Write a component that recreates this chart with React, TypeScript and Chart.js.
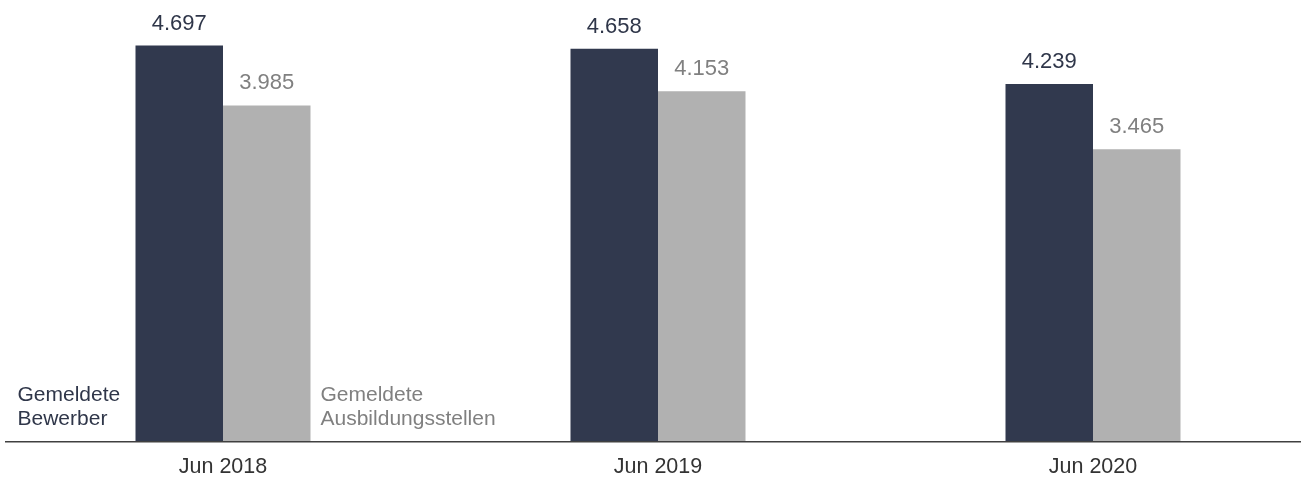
import React, { useEffect, useRef } from "react";
import { Chart, registerables } from "chart.js";

Chart.register(...registerables);

const categories = ["Jun 2018", "Jun 2019", "Jun 2020"];
const bewerber = [4697, 4658, 4239];
const stellen = [3985, 4153, 3465];
const seriesNames = ["Gemeldete Bewerber", "Gemeldete Ausbildungsstellen"];
const seriesLabelLines = [["Gemeldete", "Bewerber"], ["Gemeldete", "Ausbildungsstellen"]];

const DARK = "#31394e";
const GRAY = "#b1b1b1";
const DARK_TEXT = "#2f3649";
const GRAY_TEXT = "#808080";
const FAMILY = "'Liberation Sans', Arial, sans-serif";

const fmt = (v: number) => (v / 1000).toFixed(3);

const overlayPlugin = {
  id: "overlay",
  afterDatasetsDraw(chart: any) {
    const ctx = chart.ctx;
    const area = chart.chartArea;
    ctx.save();
    // value labels
    ctx.font = "22px " + FAMILY;
    chart.data.datasets.forEach((ds: any, di: number) => {
      const meta = chart.getDatasetMeta(di);
      meta.data.forEach((bar: any, i: number) => {
        ctx.fillStyle = di === 0 ? DARK_TEXT : GRAY_TEXT;
        ctx.textAlign = "center";
        ctx.textBaseline = "alphabetic";
        ctx.fillText(fmt(ds.data[i]), bar.x, bar.y - 16);
      });
    });
    // series labels next to first group
    ctx.font = "21px " + FAMILY;
    const b0 = chart.getDatasetMeta(0).data[0];
    const b1 = chart.getDatasetMeta(1).data[0];
    ctx.textAlign = "left";
    ctx.textBaseline = "alphabetic";
    ctx.fillStyle = DARK_TEXT;
    seriesLabelLines[0].forEach((line, k) => {
      ctx.fillText(line, b0.x - b0.width / 2 - 118, 401 + k * 24);
    });
    ctx.fillStyle = GRAY_TEXT;
    seriesLabelLines[1].forEach((line, k) => {
      ctx.fillText(line, b1.x + b1.width / 2 + 10, 401 + k * 24);
    });
    // axis line
    ctx.strokeStyle = "#404040";
    ctx.lineWidth = 1.5;
    ctx.beginPath();
    ctx.moveTo(5, area.bottom + 0.75);
    ctx.lineTo(chart.width, area.bottom + 0.75);
    ctx.stroke();
    // category labels
    ctx.font = "21.5px " + FAMILY;
    const xs = chart.scales.x;
    ctx.fillStyle = "#333333";
    ctx.textAlign = "center";
    ctx.textBaseline = "middle";
    categories.forEach((c, i) => {
      ctx.fillText(c, xs.getPixelForValue(i), area.bottom + 26);
    });
    ctx.restore();
  },
};

export default function App() {
  const ref = useRef<HTMLCanvasElement>(null);
  useEffect(() => {
    document.body.style.margin = "0";
    const chart = new Chart(ref.current!, {
      type: "bar",
      data: {
        labels: categories,
        datasets: [
          { label: seriesNames[0], data: bewerber, backgroundColor: DARK, clip: false as any },
          { label: seriesNames[1], data: stellen, backgroundColor: GRAY, clip: false as any },
        ],
      },
      options: {
        animation: false,
        responsive: false,
        maintainAspectRatio: false,
        layout: { padding: { left: 223, right: 208, top: 20, bottom: 36 } },
        plugins: { legend: { display: false }, tooltip: { enabled: false } },
        datasets: { bar: { categoryPercentage: 0.4023, barPercentage: 1 } },
        scales: {
          x: {
            offset: false,
            display: false,
            grid: { display: false, drawTicks: false },
            border: { display: false },
          },
          y: { display: false, min: 0, max: 5000 },
        },
      },
      plugins: [overlayPlugin],
    });
    return () => chart.destroy();
  }, []);
  return (
    <div style={{ width: 1301, height: 477 }}>
      <canvas ref={ref} width={1301} height={477} style={{ display: "block" }} />
    </div>
  );
}
